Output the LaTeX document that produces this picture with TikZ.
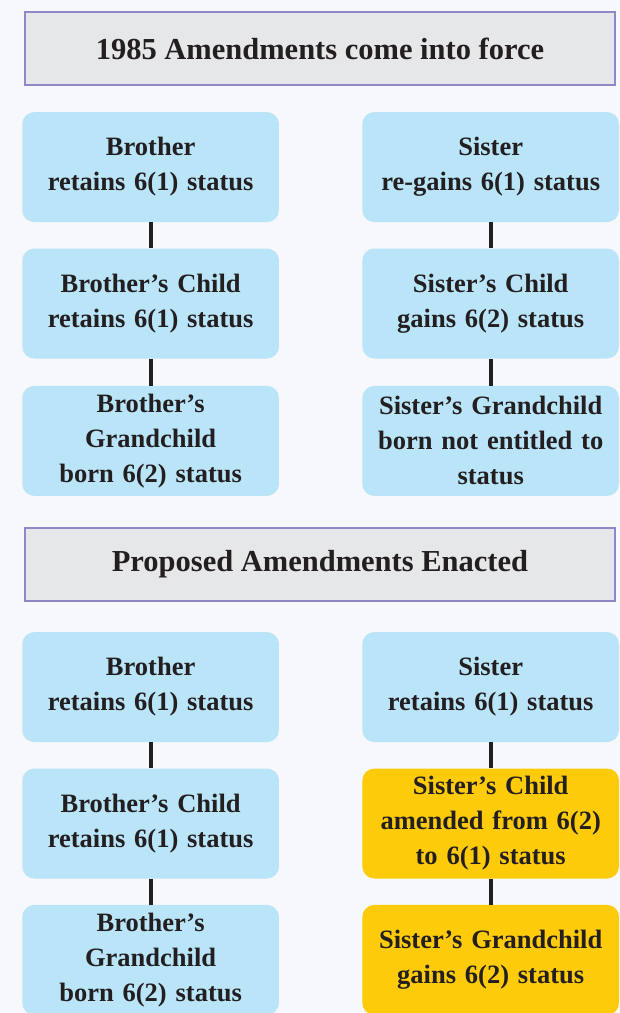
\documentclass[tikz,border=0pt]{standalone}
\usepackage{fontspec}
\setmainfont{Liberation Serif}[BoldFont={Liberation Serif Bold}]
\usetikzlibrary{positioning}

\definecolor{pagebg}{HTML}{F6F8FB}
\definecolor{hdrfill}{HTML}{E6E7E9}
\definecolor{hdrborder}{HTML}{8F87C6}
\definecolor{boxblue}{HTML}{BAE4F8}
\definecolor{boxgold}{HTML}{FDCB0A}
\definecolor{inkdark}{HTML}{231F20}

\begin{document}
\begin{tikzpicture}[
    x=1pt, y=1pt,
    node distance=26pt and 83pt,
    header/.style={draw=hdrborder,line width=1.8pt,fill=hdrfill,minimum width=590pt,minimum height=73pt,text=inkdark,font=\bfseries\fontsize{30.5}{36}\selectfont},
    status/.style={fill=boxblue,rounded corners=12pt,minimum width=255pt,minimum height=110pt,text width=250pt,align=center,text=inkdark,font=\bfseries\fontsize{26.5}{35}\selectfont},
    amended/.style={status,fill=boxgold},
    link/.style={draw=inkdark,line width=4pt}
    ]

    \fill[pagebg] (0,0) rectangle (620,-1013);
    \useasboundingbox (0,0) rectangle (620,-1013);

    % before
    \node[header] (hdrold) at (320,-48.5) {1985 Amendments come into force};

    \node[status, below=26pt of hdrold.south west, anchor=north west, xshift=-2pt] (bro) {Brother\\retains 6(1) status};
    \node[status, right=of bro] (sis) {Sister\\re-gains 6(1) status};

    \node[status, below=of bro] (brochild) {Brother’s Child\\retains 6(1) status};
    \node[status, below=of sis] (sischild) {Sister’s Child\\gains 6(2) status};

    \node[status, below=27pt of brochild] (brogc) {Brother’s\\Grandchild\\born 6(2) status};
    \node[status, below=27pt of sischild] (sisgc) {Sister’s Grandchild\\born not entitled to\\status};

    % after
    \node[header, below=31pt of brogc.south west, anchor=north west, xshift=2pt] (hdrnew) {Proposed Amendments Enacted};

    \node[status, below=30pt of hdrnew.south west, anchor=north west, xshift=-2pt] (newbro) {Brother\\retains 6(1) status};
    \node[status, right=of newbro] (newsis) {Sister\\retains 6(1) status};

    \node[status, below=of newbro] (newbrochild) {Brother’s Child\\retains 6(1) status};
    \node[amended, below=of newsis] (newsischild) {Sister’s Child\\amended from 6(2)\\to 6(1) status};

    \node[status, below=of newbrochild] (newbrogc) {Brother’s\\Grandchild\\born 6(2) status};
    \node[amended, below=of newsischild] (newsisgc) {Sister’s Grandchild\\gains 6(2) status};

    \path (bro) edge[link] (brochild)
    (brochild) edge[link] (brogc)
    (sis) edge[link] (sischild)
    (sischild) edge[link] (sisgc)
    (newbro) edge[link] (newbrochild)
    (newbrochild) edge[link] (newbrogc)
    (newsis) edge[link] (newsischild)
    (newsischild) edge[link] (newsisgc)
    ;

\end{tikzpicture}
\end{document}
